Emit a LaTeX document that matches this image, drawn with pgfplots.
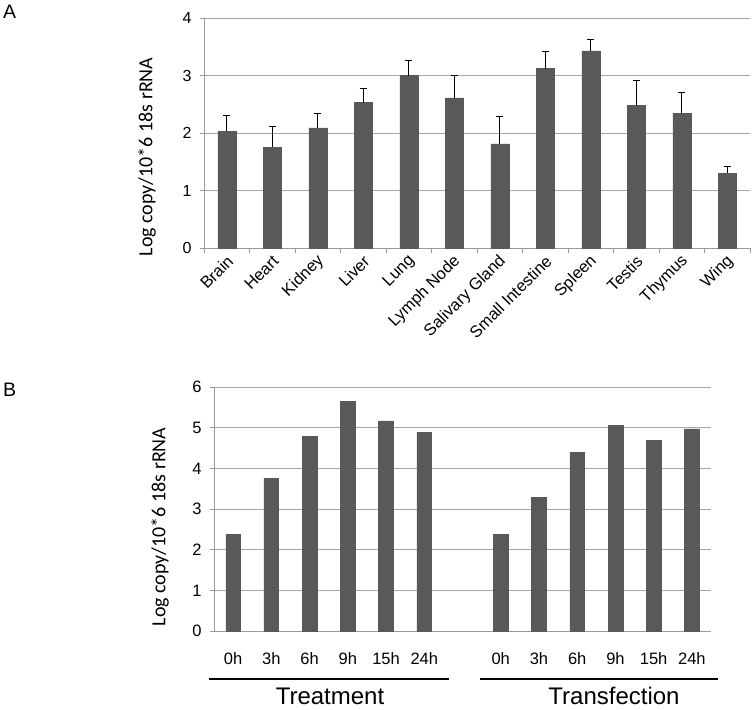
\documentclass[border=0pt]{standalone}
\usepackage{pgfplots}
\pgfplotsset{compat=1.18}
\usepackage{pgfplotstable}
\usepackage{fontspec}
\setmainfont{Liberation Sans}
\newfontfamily\calibri{Carlito}
\definecolor{barc}{HTML}{595959}
\definecolor{gridc}{HTML}{A6A6A6}
\definecolor{axisc}{HTML}{9A9A9A}

\pgfplotstableread{
x y e
0 2.03 0.28
1 1.75 0.36
2 2.09 0.25
3 2.53 0.24
4 3.00 0.26
5 2.61 0.39
6 1.81 0.47
7 3.12 0.29
8 3.43 0.20
9 2.48 0.43
10 2.34 0.36
11 1.30 0.11
}\tissue

\pgfplotstableread{
x y
0 2.38
1 3.76
2 4.78
3 5.65
4 5.17
5 4.89
7 2.38
8 3.29
9 4.40
10 5.05
11 4.68
12 4.97
}\timecourse

\pgfplotsset{
  excel/.style={
    scale only axis,
    /pgf/number format/assume math mode=true,
    axis x line*=bottom, axis y line*=left,
    axis line style={draw=axisc, line width=0.8pt, -},
    ymajorgrids, grid style={draw=gridc, line width=0.8pt},
    tick align=outside,
    major tick length=4pt,
    y tick style={draw=axisc, line width=0.8pt},
    enlargelimits=false,
    clip=false,
  }
}

\begin{document}
\begin{tikzpicture}[x=1pt,y=1pt]
\useasboundingbox (0,0) rectangle (753,-710);

\node[anchor=north west, inner sep=0, font=\fontsize{19.5}{22}\selectfont] at (3,-5) {A};
\node[anchor=north west, inner sep=0, font=\fontsize{19.5}{22}\selectfont] at (3,-383) {B};

\node[rotate=90, inner sep=0, font=\calibri\fontsize{20}{24}\selectfont] at (147,-157) {Log copy/10*6 18s rRNA};
\node[rotate=90, inner sep=0, font=\calibri\fontsize{20}{24}\selectfont] at (160,-527) {Log copy/10*6 18s rRNA};

% Panel A
\begin{axis}[excel,
  at={(204pt,-248pt)}, anchor=south west,
  width=546pt, height=230pt,
  xmin=-0.5, xmax=11.5, ymin=0, ymax=4,
  ytick={0,1,2,3,4},
  yticklabel style={font=\fontsize{16}{19}\selectfont, xshift=-5pt},
  xtick={0,...,11},
  xticklabels={Brain,Heart,Kidney,Liver,Lung,Lymph Node,Salivary Gland,Small Intestine,Spleen,Testis,Thymus,Wing},
  major x tick style={draw=none},
  minor xtick={-0.5,0.5,...,11.5},
  minor x tick style={draw=axisc, line width=0.8pt},
  minor tick length=5pt,
  xticklabel style={font=\fontsize{16.5}{19}\selectfont, rotate=45, anchor=east, inner sep=1pt, xshift=-1pt, yshift=-7pt},
  ybar, bar width=18pt,
]
\addplot[fill=barc, draw=barc,
  error bars/.cd, y dir=plus, y explicit,
  error bar style={black, line width=1pt},
  error mark options={black, line width=1pt, mark size=3.6pt, rotate=90}]
  table[x=x, y=y, y error=e] {\tissue};
\end{axis}

% Panel B
\begin{axis}[excel,
  at={(214pt,-631pt)}, anchor=south west,
  width=497pt, height=244pt,
  xmin=-0.5, xmax=12.5, ymin=0, ymax=6,
  ytick={0,1,2,3,4,5,6},
  yticklabel style={font=\fontsize{16.5}{19}\selectfont, xshift=-5pt},
  xtick={0,1,2,3,4,5,7,8,9,10,11,12},
  xticklabels={0h,3h,6h,9h,15h,24h,0h,3h,6h,9h,15h,24h},
  x tick style={draw=none},
  xticklabel style={font=\fontsize{16.5}{19}\selectfont, yshift=-14pt},
  ybar, bar width=14.7pt,
]
\addplot[fill=barc, draw=barc] table[x=x, y=y] {\timecourse};
\end{axis}

\draw[line width=1.5pt] (209,-679) -- (449,-679);
\draw[line width=1.5pt] (480,-679) -- (718,-679);
\node[anchor=base, inner sep=0, font=\fontsize{24}{27}\selectfont] at (330,-704) {Treatment};
\node[anchor=base, inner sep=0, font=\fontsize{24}{27}\selectfont] at (614,-704) {Transfection};
\end{tikzpicture}
\end{document}
